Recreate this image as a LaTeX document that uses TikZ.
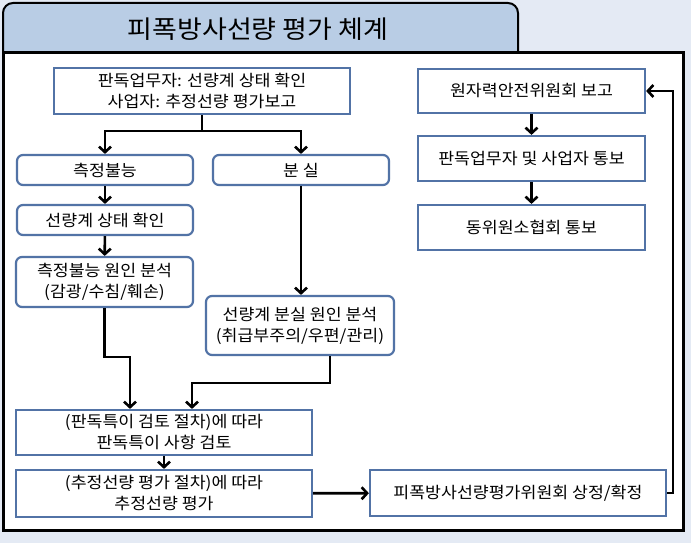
\documentclass[tikz,border=0pt]{standalone}
\usepackage{fontspec}
\newfontfamily\kr[FakeStretch=1.08]{Noto Sans CJK KR}
\usetikzlibrary{arrows.meta}
\definecolor{bgc}{HTML}{E4EAF4}
\definecolor{tabc}{HTML}{B9CDE5}
\definecolor{boxc}{HTML}{5273A6}
\tikzset{
  boxbase/.style={draw=boxc, line width=2.2pt, fill=white, align=center, inner sep=0pt,
    font=\kr\fontsize{16}{21}\selectfont},
  sqbox/.style={boxbase},
  rbox/.style={boxbase, rounded corners=6pt},
  conn/.style={line width=2.6pt, -{Straight Barb[length=5.5pt,width=12pt]}},
  plain/.style={line width=2.6pt}
}
\newcommand{\bx}[7]{\node[#1, minimum width=#5pt, minimum height=#6pt] (#2) at (#3,#4) {#7};}
\begin{document}
\begin{tikzpicture}[x=1pt,y=-1pt]
\fill[bgc] (0,0) rectangle (691,543);
\useasboundingbox (0,0) rectangle (691,543);
% tab
\draw[fill=tabc, line width=2pt, rounded corners=10pt] (3,54) -- (3,3) -- (518,3) -- (518,54);
\node[font=\kr\fontsize{25}{28}\selectfont] (title) at (258,29) {피폭방사선량 평가 체계};
% frame
\draw[fill=white, line width=3pt] (3,53) rectangle (683,530);
% boxes
\bx{sqbox}{top}{202}{91}{296}{46}{판독업무자: 선량계 상태 확인\\사업자: 추정선량 평가보고}
\bx{rbox}{m1}{105}{170}{176}{30}{측정불능}
\bx{rbox}{lost}{301}{170}{176}{30}{분 실}
\bx{rbox}{chk}{105}{220}{176}{30}{선량계 상태 확인}
\bx{rbox}{cause1}{104.5}{282}{177}{50}{측정불능 원인 분석\\(감광/수침/훼손)}
\bx{rbox}{cause2}{300}{325.5}{188}{59}{선량계 분실 원인 분석\\(취급부주의/우편/관리)}
\bx{sqbox}{review}{164}{432.5}{296}{45}{(판독특이 검토 절차)에 따라\\판독특이 사항 검토}
\bx{sqbox}{eval}{164}{493.5}{296}{47}{(추정선량 평가 절차)에 따라\\추정선량 평가}
\bx{sqbox}{comm}{518}{493}{296}{46}{피폭방사선량평가위원회 상정/확정}
\bx{sqbox}{nssc}{531.5}{91}{227}{44}{원자력안전위원회 보고}
\bx{sqbox}{notify}{531.5}{158.5}{227}{45}{판독업무자 및 사업자 통보}
\bx{sqbox}{kria}{531.5}{227.5}{227}{45}{동위원소협회 통보}
% connectors
\coordinate (sp) at (202,131);
\draw[plain] (top.south) -- (sp);
\draw[conn] (sp) -| (m1.north);
\draw[conn] (sp) -| (lost.north);
\draw[conn] (m1) -- (chk);
\draw[conn] (chk) -- (cause1);
\draw[conn] (lost.south) -- (lost.south |- cause2.north);
\coordinate (b1) at (130,357);
\draw[conn] (cause1.south) |- (b1) -- (b1 |- review.north);
\coordinate (b2) at (330,383);
\coordinate (b3) at (192,383);
\draw[conn] (b2 |- cause2.south) -- (b2) -- (b3) -- (b3 |- review.north);
\draw[conn] (review) -- (eval);
\draw[conn] (eval) -- (comm);
\coordinate (r) at (673,91);
\draw[conn] (comm.east) -| (r) -- (nssc.east);
\draw[conn] (nssc) -- (notify);
\draw[conn] (notify) -- (kria);
\end{tikzpicture}
\end{document}
